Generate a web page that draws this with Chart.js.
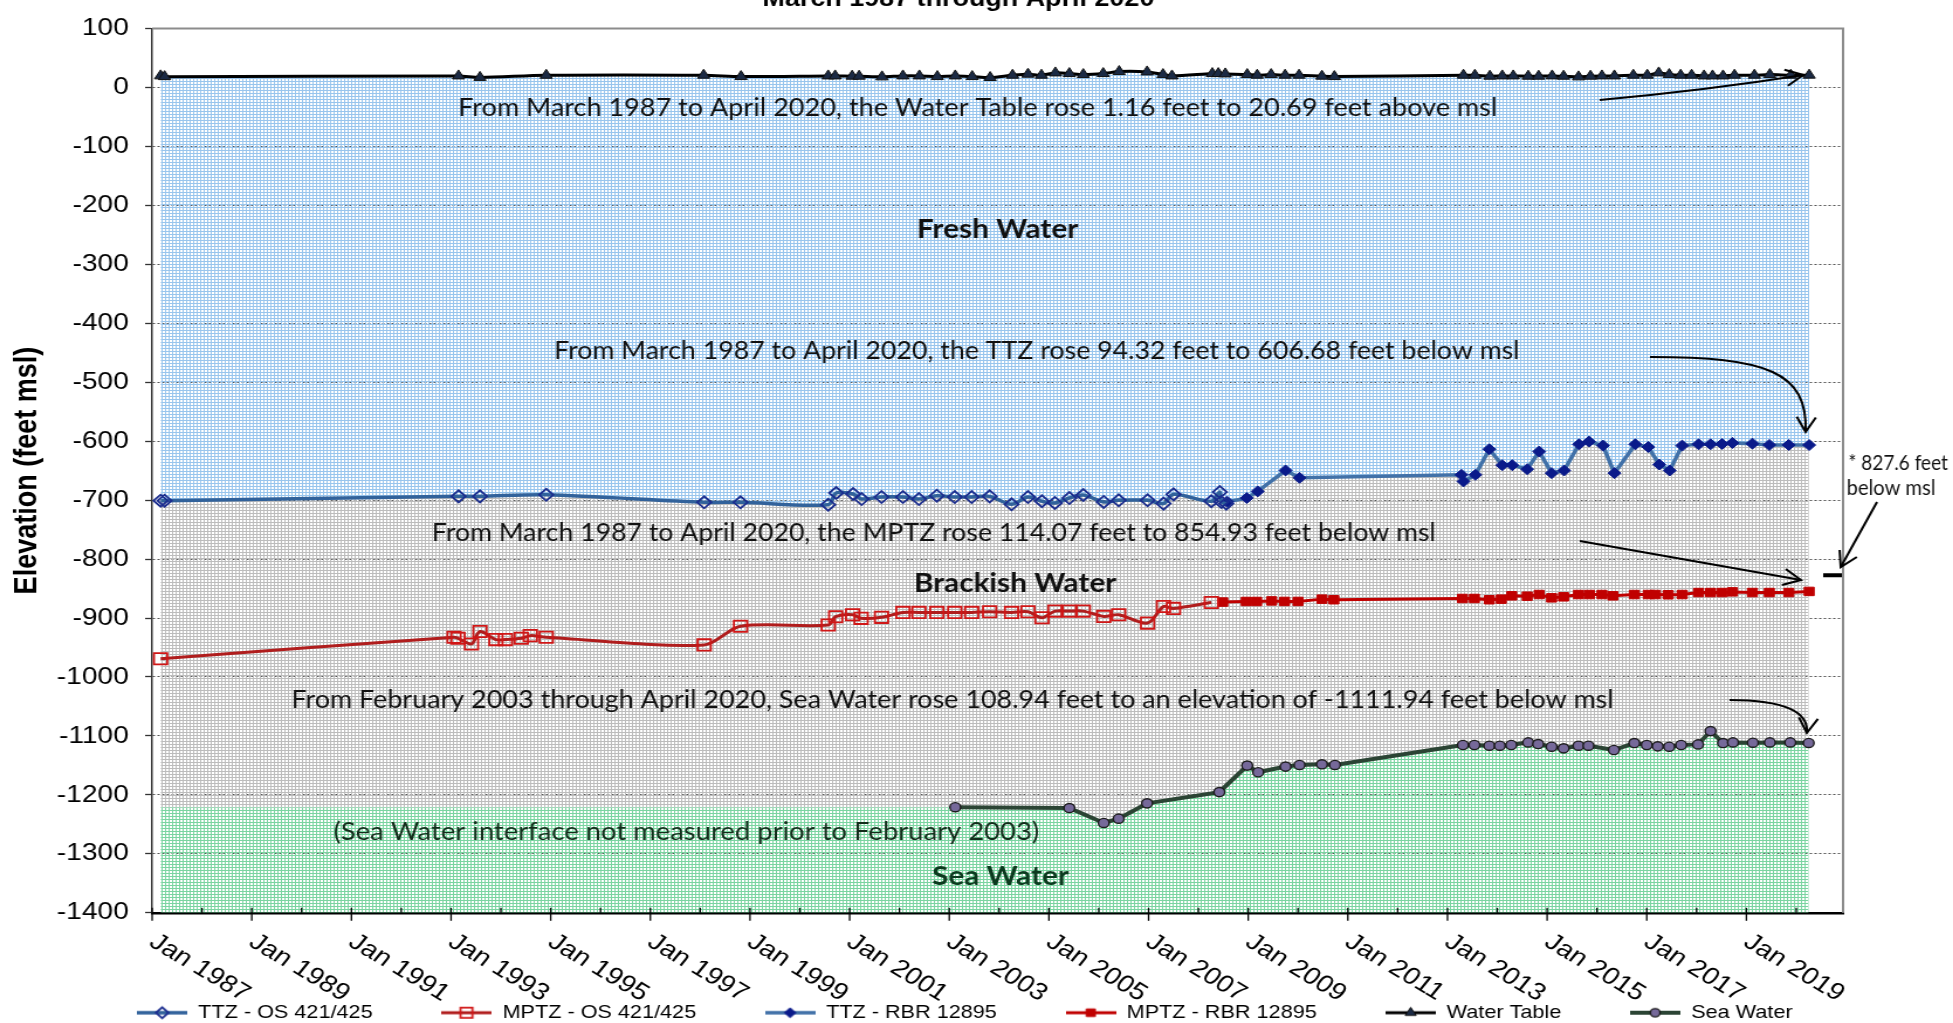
<!DOCTYPE html>
<html>
<head>
<meta charset="utf-8">
<title>Elevation (feet msl)</title>
<script src="https://cdn.jsdelivr.net/npm/chart.js@4.4.1/dist/chart.umd.min.js"></script>
<style>
  html, body { margin: 0; padding: 0; background: #fff; overflow: hidden; }
  /* drawn on a narrower canvas, then widened to the page */
  #wrap { width: 1669px; height: 1023px; transform: scaleX(1.1702); transform-origin: 0 0; }
</style>
</head>
<body>
<div id="wrap"><canvas id="chart" width="1669" height="1023"></canvas></div>
<script>
// ---------- data (decimal years / feet msl) ----------

const wtYears = [1987.17, 1987.25, 1993.15, 1993.58, 1994.91,
  1998.07, 1998.82, 2000.57, 2000.71, 2001.05, 2001.19, 2001.65, 2002.07, 2002.40, 2002.76,
  2003.12, 2003.46, 2003.82, 2004.27, 2004.58, 2004.85, 2005.13, 2005.41, 2005.69, 2006.09,
  2006.41, 2006.97, 2007.29, 2007.47, 2008.28, 2008.40, 2008.54, 2008.98, 2009.18, 2009.46,
  2009.74, 2010.02, 2010.48, 2010.73,
  2013.32, 2013.55, 2013.85, 2014.10, 2014.32, 2014.62, 2014.83, 2015.10, 2015.33, 2015.63,
  2015.87, 2016.10, 2016.35, 2016.73, 2017.01, 2017.24, 2017.45, 2017.68, 2017.90, 2018.15,
  2018.32, 2018.53, 2018.76, 2019.16, 2019.47, 2019.89, 2020.26];
const wtValues = [19.53, 18.2, 19.4, 16.9, 20.5,
  20.6, 18.3, 19.4, 19.4, 18.9, 18.9, 17.8, 19.4, 19.4, 18.3,
  19.4, 18.3, 16.7, 20.6, 22.3, 20.6, 24.5, 23.4, 21.7, 23.4,
  26.8, 26.2, 21.7, 19.4, 23.4, 23.4, 22.8, 21.7, 20.6, 21.7,
  20.6, 20.6, 18.9, 18.3,
  20.6, 20.6, 18.9, 19.4, 19.4, 18.9, 18.9, 19.4, 18.9, 17.8,
  18.9, 19.4, 19.4, 20.6, 20.6, 24.5, 21.7, 20.6, 20.6, 19.4,
  19.4, 19.4, 20.6, 20.6, 21.7, 20.6, 20.69];

const ttzOsYears = [1987.17, 1987.25, 1993.15, 1993.58, 1994.91, 1998.08, 1998.81, 2000.57,
  2000.73, 2001.07, 2001.24, 2001.64, 2002.07, 2002.39, 2002.75, 2003.11, 2003.45, 2003.81,
  2004.25, 2004.58, 2004.86, 2005.12, 2005.41, 2005.69, 2006.10, 2006.40, 2006.98, 2007.30,
  2007.50, 2008.26, 2008.43, 2008.46, 2008.56];
const ttzOsValues = [-701.0, -701.0, -693.7, -693.7, -691.0, -703.8, -703.8, -707.8,
  -688.0, -689.7, -698.2, -694.8, -694.8, -698.2, -692.6, -694.8, -694.8, -693.7,
  -707.1, -694.8, -702.0, -704.9, -696.5, -691.4, -703.2, -700.4, -700.4, -706.0,
  -690.3, -702.0, -686.4, -703.2, -706.0];

const mptzOsYears = [1987.17, 1993.06, 1993.14, 1993.41, 1993.58, 1993.90, 1994.09, 1994.41,
  1994.59, 1994.91, 1998.08, 1998.81, 2000.57, 2000.72, 2001.06, 2001.23, 2001.64, 2002.07,
  2002.39, 2002.75, 2003.11, 2003.45, 2003.81, 2004.25, 2004.58, 2004.86, 2005.12, 2005.41,
  2005.69, 2006.10, 2006.40, 2006.98, 2007.30, 2007.50, 2008.26];
const mptzOsValues = [-969.0, -932.7, -934.4, -944.0, -923.0, -936.6, -936.6, -934.4,
  -929.9, -932.7, -945.6, -914.1, -911.9, -897.8, -894.4, -900.6, -898.9, -890.5,
  -890.5, -890.5, -890.5, -890.5, -889.4, -890.5, -889.4, -899.5, -888.3, -888.3,
  -888.3, -897.3, -894.4, -908.6, -880.4, -883.7, -873.6];

const ttzRbrYears = [2008.58, 2008.97, 2009.19, 2009.75, 2010.03, 2013.28, 2013.32, 2013.56,
  2013.84, 2014.10, 2014.30, 2014.60, 2014.84, 2015.09, 2015.34, 2015.64, 2015.84, 2016.12,
  2016.35, 2016.77, 2017.03, 2017.25, 2017.46, 2017.71, 2018.04, 2018.28, 2018.51, 2018.72,
  2019.12, 2019.46, 2019.85, 2020.26];
const ttzRbrValues = [-703.0, -696.6, -685.3, -649.8, -662.2, -657.2, -668.4, -657.2,
  -613.8, -640.8, -640.8, -647.6, -617.7, -654.3, -649.8, -605.4, -600.8, -607.6,
  -654.3, -605.4, -609.9, -639.7, -649.8, -607.6, -605.4, -605.4, -604.8, -603.1,
  -604.3, -606.5, -606.5, -606.68];

const mptzRbrYears = [2008.49, 2008.96, 2009.17, 2009.47, 2009.73, 2010.00, 2010.48, 2010.72,
  2013.30, 2013.54, 2013.84, 2014.08, 2014.29, 2014.60, 2014.84, 2015.09, 2015.33, 2015.63,
  2015.85, 2016.10, 2016.32, 2016.75, 2017.03, 2017.17, 2017.43, 2017.71, 2018.04, 2018.28,
  2018.51, 2018.72, 2019.12, 2019.46, 2019.85, 2020.26];
const mptzRbrValues = [-873.0, -872.0, -872.0, -871.0, -871.9, -871.9, -868.0, -869.0,
  -866.9, -866.9, -869.0, -868.0, -862.4, -863.0, -860.2, -865.8, -864.1, -860.2,
  -860.2, -860.2, -862.4, -860.2, -860.2, -860.2, -860.6, -860.2, -856.8, -856.8,
  -856.8, -855.7, -856.8, -856.8, -856.8, -854.93];

const seaYears = [2003.12, 2005.41, 2006.10, 2006.40, 2006.97, 2008.42, 2008.98, 2009.20,
  2009.75, 2010.03, 2010.48, 2010.74, 2013.31, 2013.54, 2013.84, 2014.05, 2014.28, 2014.62,
  2014.82, 2015.09, 2015.33, 2015.63, 2015.83, 2016.34, 2016.75, 2017.00, 2017.22, 2017.45,
  2017.69, 2018.03, 2018.28, 2018.53, 2018.73, 2019.13, 2019.47, 2019.88, 2020.25];
const seaValues = [-1220.88, -1222.3, -1247.6, -1240.3, -1214.4, -1195.3, -1150.3, -1161.6,
  -1152.0, -1149.2, -1148.1, -1149.2, -1115.4, -1115.4, -1116.6, -1116.6, -1115.4, -1111.0,
  -1113.8, -1118.3, -1121.1, -1116.6, -1116.6, -1123.9, -1112.1, -1115.4, -1117.7, -1118.3,
  -1115.4, -1114.4, -1091.8, -1112.1, -1111.0, -1111.5, -1111.0, -1111.0, -1111.94];

// single reading marked beside the right axis
const markYears = [2020.74];
const markValues = [-827.6];

const yTicks = [100, 0, -100, -200, -300, -400, -500, -600, -700, -800, -900, -1000, -1100, -1200, -1300, -1400];
const xTickYears = [1987, 1989, 1991, 1993, 1995, 1997, 1999, 2001, 2003, 2005, 2007, 2009, 2011, 2013, 2015, 2017, 2019];
const xTickLabels = xTickYears.map(y => 'Jan ' + y);
const xMin = 1987, xMax = 2020.94;

const seriesNames = ['TTZ - OS 421/425', 'MPTZ - OS 421/425', 'TTZ - RBR 12895',
  'MPTZ - RBR 12895', 'Water Table', 'Sea Water'];

// ---------- helpers ----------

const pts = (xs, ys) => xs.map((x, i) => ({x: x, y: ys[i]}));

function makePattern(color) {
  const c = document.createElement('canvas');
  c.width = 3; c.height = 3;
  const g = c.getContext('2d');
  g.fillStyle = color;
  g.fillRect(0, 0, 3, 1);
  g.fillRect(0, 0, 1, 3);
  return g.createPattern(c, 'repeat');
}

const bluePattern = makePattern('rgb(152,197,237)');
const greyPattern = makePattern('rgb(188,188,188)');
const greenPattern = makePattern('rgb(122,212,160)');

// boundaries for the three shaded bands
const ttzEdge = pts(ttzOsYears, ttzOsValues).concat(pts(ttzRbrYears, ttzRbrValues));
const seaEdge = [{x: wtYears[0], y: seaValues[0]}].concat(pts(seaYears, seaValues));

const AXIS_FONT = '"Liberation Sans", Arial, sans-serif';
const NOTE_FONT = 'Lato, "Open Sans", sans-serif';

const datasets = [
  {label: seriesNames[0], data: pts(ttzOsYears, ttzOsValues),
   borderColor: '#31629b', borderWidth: 3.5, tension: 0.3,
   pointStyle: 'rectRot', pointRadius: 6, pointBorderWidth: 1.8,
   pointBorderColor: '#1b2d8e', pointBackgroundColor: 'rgba(255,255,255,0)'},
  {label: seriesNames[1], data: pts(mptzOsYears, mptzOsValues),
   borderColor: '#b01d1d', borderWidth: 3, tension: 0.3,
   pointStyle: 'rect', pointRadius: 8, pointBorderWidth: 1.8,
   pointBorderColor: '#d01616', pointBackgroundColor: 'rgba(255,255,255,0)'},
  {label: seriesNames[2], data: pts(ttzRbrYears, ttzRbrValues),
   borderColor: '#4171a8', borderWidth: 3.5, tension: 0,
   pointStyle: 'rectRot', pointRadius: 5.5, pointBorderWidth: 1,
   pointBorderColor: '#0a1a8a', pointBackgroundColor: '#0a1a8a'},
  {label: seriesNames[3], data: pts(mptzRbrYears, mptzRbrValues),
   borderColor: '#c00000', borderWidth: 3, tension: 0,
   pointStyle: 'rect', pointRadius: 6, pointBorderWidth: 1,
   pointBorderColor: '#c00000', pointBackgroundColor: '#c00000'},
  {label: seriesNames[4], data: pts(wtYears, wtValues),
   borderColor: '#000000', borderWidth: 3, tension: 0.3,
   pointStyle: 'triangle', pointRadius: 6, pointBorderWidth: 1,
   pointBorderColor: '#111111', pointBackgroundColor: '#1b2a44'},
  {label: seriesNames[5], data: pts(seaYears, seaValues),
   borderColor: '#2b4434', borderWidth: 4, tension: 0,
   pointStyle: 'circle', pointRadius: 4.6, pointBorderWidth: 1.4,
   pointBorderColor: '#1c1c1c', pointBackgroundColor: '#76699a'},
  {label: 'mark', data: pts(markYears, markValues), showLine: false,
   pointStyle: 'line', pointRadius: 8.5, pointBorderWidth: 4, pointBorderColor: '#000'},
  {label: 'fresh', data: pts(wtYears, wtValues), borderColor: 'rgba(0,0,0,0)', borderWidth: 0,
   pointRadius: 0, tension: 0.3, fill: {target: 8}, backgroundColor: bluePattern},
  {label: 'brackish', data: ttzEdge, borderColor: 'rgba(0,0,0,0)', borderWidth: 0,
   pointRadius: 0, tension: 0.15, fill: {target: 9}, backgroundColor: greyPattern},
  {label: 'sea', data: seaEdge, borderColor: 'rgba(0,0,0,0)', borderWidth: 0,
   pointRadius: 0, tension: 0, fill: 'start', backgroundColor: greenPattern}
];

// legend swatch: short line with the series marker in the middle
function swatch(ds) {
  const c = document.createElement('canvas');
  c.width = 43; c.height = 18;
  const g = c.getContext('2d');
  g.strokeStyle = ds.borderColor;
  g.lineWidth = ds.borderWidth;
  g.beginPath(); g.moveTo(0, 9); g.lineTo(43, 9); g.stroke();
  g.fillStyle = ds.pointBackgroundColor;
  g.strokeStyle = ds.pointBorderColor;
  g.lineWidth = ds.pointBorderWidth;
  Chart.helpers.drawPoint(g, {pointStyle: ds.pointStyle, radius: ds.pointRadius * 0.9,
    borderWidth: ds.pointBorderWidth, rotation: 0}, 21.5, 9);
  return c;
}

// ---------- notes & arrows ----------

const notes = [
  {text: 'From March 1987 to April 2020, the Water Table rose 1.16 feet to 20.69 feet above msl', x: 835.5, y: 108, w: 888},
  {text: 'Fresh Water', x: 852.5, y: 229, w: 138, bold: true},
  {text: 'From March 1987 to April 2020, the TTZ rose 94.32 feet to 606.68 feet below msl', x: 886, y: 351, w: 825},
  {text: 'From March 1987 to April 2020, the MPTZ rose 114.07 feet to 854.93 feet below msl', x: 798, y: 533, w: 858},
  {text: 'Brackish Water', x: 867.5, y: 583, w: 173, bold: true},
  {text: 'From February 2003 through April 2020, Sea Water rose 108.94 feet to an elevation of -1111.94 feet below msl', x: 814, y: 700, w: 1130},
  {text: '(Sea Water interface not measured prior to February 2003)', x: 586.5, y: 832, w: 603, color: '#122c1a'},
  {text: 'Sea Water', x: 855, y: 876, w: 117, bold: true, color: '#0b3a1e'},
  {text: '* 827.6 feet', x: 1622, y: 463, w: 85, size: 21},
  {text: 'below msl', x: 1616, y: 488, w: 76, size: 21}
];

function drawNote(ctx, n) {
  ctx.save();
  ctx.font = (n.bold ? 'bold 27px ' : (n.size || 25) + 'px ') + NOTE_FONT;
  ctx.fillStyle = n.color || '#111';
  ctx.textAlign = 'center';
  ctx.textBaseline = 'middle';
  const w = ctx.measureText(n.text).width;
  ctx.translate(n.x, n.y);
  ctx.scale(n.w / w, 1);
  ctx.fillText(n.text, 0, 0);
  ctx.restore();
}

function head(ctx, tx, ty, fx, fy) {
  const a = Math.atan2(ty - fy, tx - fx), len = 17;
  ctx.beginPath();
  ctx.moveTo(tx - len * Math.cos(a - 0.5), ty - len * Math.sin(a - 0.5));
  ctx.lineTo(tx, ty);
  ctx.lineTo(tx - len * Math.cos(a + 0.5), ty - len * Math.sin(a + 0.5));
  ctx.stroke();
}

function drawArrows(ctx) {
  ctx.save();
  ctx.strokeStyle = '#000';
  ctx.lineWidth = 2;
  // water table
  ctx.beginPath(); ctx.moveTo(1367, 100); ctx.quadraticCurveTo(1460, 90, 1541, 75); ctx.stroke();
  head(ctx, 1541, 75, 1460, 90);
  // TTZ
  ctx.beginPath(); ctx.moveTo(1410, 357); ctx.bezierCurveTo(1510, 357, 1545, 372, 1543, 432); ctx.stroke();
  head(ctx, 1543, 432, 1545, 380);
  // MPTZ
  ctx.beginPath(); ctx.moveTo(1350, 541); ctx.lineTo(1539, 580); ctx.stroke();
  head(ctx, 1539, 580, 1350, 541);
  // sea water
  ctx.beginPath(); ctx.moveTo(1478, 700); ctx.bezierCurveTo(1525, 700, 1546, 712, 1544, 733); ctx.stroke();
  head(ctx, 1544, 733, 1546, 712);
  // side note
  ctx.beginPath(); ctx.moveTo(1604, 502); ctx.lineTo(1573, 567); ctx.stroke();
  head(ctx, 1573, 567, 1604, 502);
  ctx.restore();
}

const decor = {
  id: 'decor',
  afterDatasetsDraw(chart) {
    const {ctx, chartArea: area, scales: {x}} = chart;
    ctx.save();
    // top and right frame
    ctx.strokeStyle = '#8c8c8c';
    ctx.lineWidth = 2;
    ctx.beginPath();
    ctx.moveTo(area.left, area.top); ctx.lineTo(area.right, area.top); ctx.lineTo(area.right, area.bottom);
    ctx.stroke();
    // year ticks: long on labelled years, short in between
    ctx.strokeStyle = '#000';
    ctx.lineWidth = 1.3;
    for (let yr = xMin; yr <= xMax; yr++) {
      const px = x.getPixelForValue(yr);
      const major = xTickYears.includes(yr);
      ctx.beginPath();
      ctx.moveTo(px, area.bottom - 5);
      ctx.lineTo(px, area.bottom + (major ? 8 : 0));
      ctx.stroke();
    }
    // slanted date labels
    ctx.font = '24px ' + AXIS_FONT;
    ctx.fillStyle = '#000';
    ctx.textAlign = 'left';
    ctx.textBaseline = 'top';
    xTickYears.forEach((yr, i) => {
      ctx.save();
      ctx.translate(x.getPixelForValue(yr) + 7, area.bottom + 17);
      ctx.rotate(35 * Math.PI / 180);
      ctx.fillText(xTickLabels[i], 0, 0);
      ctx.restore();
    });
    ctx.restore();
    notes.forEach(n => drawNote(ctx, n));
    drawArrows(ctx);
    // chart title, mostly above the page edge
    ctx.save();
    ctx.font = 'bold 23px ' + AXIS_FONT;
    ctx.fillStyle = '#000';
    ctx.textAlign = 'center';
    ctx.textBaseline = 'alphabetic';
    ctx.fillText('March 1987 through April 2020', 819, 6);
    ctx.restore();
  }
};

new Chart(document.getElementById('chart'), {
  type: 'line',
  data: {datasets: datasets},
  options: {
    responsive: false,
    animation: false,
    devicePixelRatio: 1,
    events: [],
    layout: {padding: {top: 22, right: 20, bottom: -9, left: 0}},
    plugins: {
      tooltip: {enabled: false},
      filler: {propagate: false},
      legend: {
        position: 'bottom',
        labels: {
          usePointStyle: true,
          pointStyleWidth: 43,
          padding: 58.7,
          color: '#000',
          font: {family: AXIS_FONT, size: 18.5},
          generateLabels: chart => chart.data.datasets.slice(0, 6).map((ds, i) => ({
            text: ds.label,
            pointStyle: swatch(ds),
            fillStyle: 'rgba(0,0,0,0)',
            strokeStyle: 'rgba(0,0,0,0)',
            lineWidth: 0,
            hidden: false,
            datasetIndex: i
          }))
        }
      }
    },
    scales: {
      x: {
        type: 'linear',
        min: xMin,
        max: xMax,
        ticks: {display: false},
        grid: {display: false},
        border: {display: true, color: '#000', width: 2.5},
        afterFit: s => { s.height = 32; }
      },
      y: {
        type: 'linear',
        min: -1400,
        max: 100,
        afterBuildTicks: s => { s.ticks = yTicks.map(v => ({value: v})); },
        ticks: {
          color: '#000',
          padding: 14,
          font: {family: AXIS_FONT, size: 24},
          callback: v => String(v)
        },
        grid: {color: '#555', lineWidth: 1, tickLength: 6, tickColor: '#333', tickWidth: 1.3},
        border: {display: true, color: '#333', width: 1.5, dash: [2, 2]},
        title: {
          display: true,
          text: 'Elevation (feet msl)',
          color: '#000',
          font: {family: AXIS_FONT, size: 27, weight: 'bold'},
          padding: {top: 7, bottom: 0}
        },
        afterFit: s => { s.width = 130; }
      },
      yRight: {
        type: 'linear',
        position: 'right',
        display: true,
        ticks: {display: false},
        grid: {display: false},
        border: {display: false},
        afterFit: s => { s.width = 74; }
      }
    }
  },
  plugins: [decor]
});
</script>
</body>
</html>
